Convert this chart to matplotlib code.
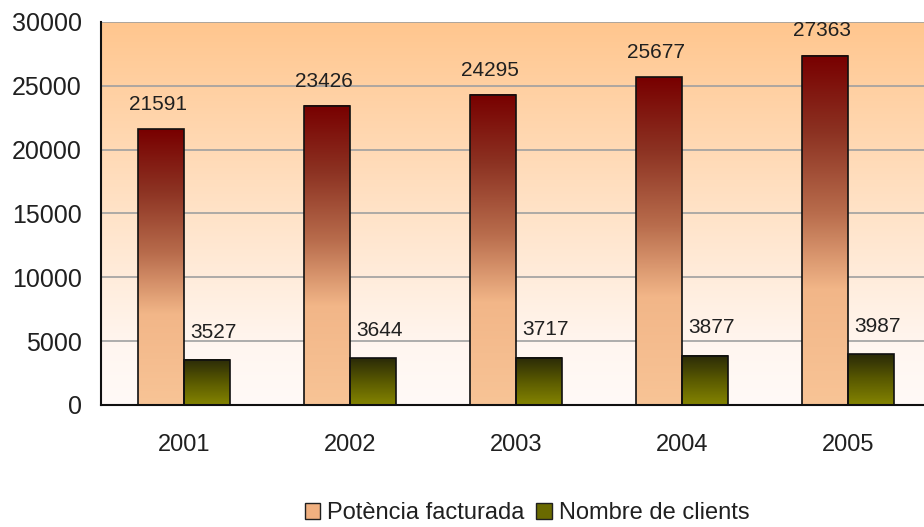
import numpy as np
import matplotlib
matplotlib.use('Agg')
import matplotlib.pyplot as plt
from matplotlib.colors import LinearSegmentedColormap
from matplotlib.patches import Patch

years = ['2001', '2002', '2003', '2004', '2005']
potencia = [21591, 23426, 24295, 25677, 27363]
clients = [3527, 3644, 3717, 3877, 3987]

plt.rcParams['font.family'] = ['Liberation Sans', 'DejaVu Sans']

fig = plt.figure(figsize=[9.24, 5.27], dpi=100)
ax = fig.add_axes([0.1093, 0.2315, 0.8983, 0.7268])

ymax = 30000
ax.set_xlim(-0.5, len(years) - 0.5)
ax.set_ylim(0, ymax)

# background gradient (orange top -> white bottom)
bg_cmap = LinearSegmentedColormap.from_list('bg', [(0, '#fffaf7'), (0.15, '#fff6f0'), (0.55, '#ffe0c2'), (1, '#ffc68e')])
grad = np.linspace(0, 1, 256).reshape(-1, 1)
ax.imshow(grad, cmap=bg_cmap, origin='lower', extent=[-0.5, len(years) - 0.5, 0, ymax],
          aspect='auto', zorder=0)

# grid
for yv in range(5000, ymax + 1, 5000):
    ax.axhline(yv, color='#a0a0a0', lw=1.2, zorder=1)

red_cmap = LinearSegmentedColormap.from_list('red', [(0, '#f8c496'), (0.33, '#f2b688'),
                                                     (0.55, '#b86c4c'), (0.78, '#8c3222'), (1, '#780000')])
green_cmap = LinearSegmentedColormap.from_list('green', [(0, '#848400'), (0.5, '#5a5a00'), (1, '#2a2a08')])

w = 0.277
x = np.arange(len(years))
bars1 = ax.bar(x - w / 2, potencia, w, facecolor='none', edgecolor='#101010', lw=1.2, zorder=3)
bars2 = ax.bar(x + w / 2, clients, w, facecolor='none', edgecolor='#101010', lw=1.2, zorder=3)

for bars, cmap in [(bars1, red_cmap), (bars2, green_cmap)]:
    for b in bars:
        x0 = b.get_x()
        ax.imshow(grad, cmap=cmap, origin='lower', extent=[x0, x0 + b.get_width(), 0, b.get_height()],
                  aspect='auto', zorder=2)

for i in range(len(years)):
    ax.annotate(str(potencia[i]), (x[i] - w / 2, potencia[i]), xytext=(-2, 11), textcoords='offset points',
                ha='center', va='bottom', fontsize=15, color='#202020', zorder=4)
    ax.annotate(str(clients[i]), (x[i] + w / 2, clients[i]), xytext=(5, 13), textcoords='offset points',
                ha='center', va='bottom', fontsize=15, color='#202020', zorder=4)

ax.set_xticks(x)
ax.set_xticklabels(years)
ax.set_yticks(range(0, ymax + 1, 5000))
ax.tick_params(axis='x', length=0, pad=21, labelsize=17, colors='#202020')
ax.tick_params(axis='y', length=0, pad=14, labelsize=18, colors='#202020')

for s in ['top', 'right']:
    ax.spines[s].set_visible(False)
ax.spines['left'].set_color('#101010')
ax.spines['bottom'].set_color('#101010')
ax.spines['left'].set_linewidth(1.5)
ax.spines['bottom'].set_linewidth(1.5)
ax.spines['left'].set_zorder(5)
ax.spines['bottom'].set_zorder(5)

handles = [Patch(facecolor='#f0b080', edgecolor='#202020', label='Potència facturada'),
           Patch(facecolor='#6a6a00', edgecolor='#202020', label='Nombre de clients')]
fig.legend(handles=handles, loc='center', bbox_to_anchor=(527 / 924, 1 - 513 / 527), ncol=2,
           frameon=False, fontsize=17, handlelength=0.65, handleheight=0.65, handletextpad=0.3,
           columnspacing=0.5, labelcolor='#202020')

fig.savefig('out.png', dpi=100)
